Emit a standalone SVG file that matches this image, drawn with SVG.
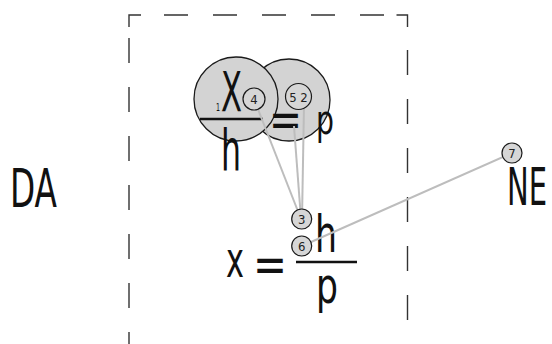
<svg xmlns="http://www.w3.org/2000/svg" width="552" height="344" viewBox="0 0 552 344">
<defs>
<style>
.t{font-family:"Liberation Sans Narrow","DejaVu Sans Condensed","Liberation Sans",sans-serif;fill:#111}
.s{font-family:"Liberation Sans Narrow","DejaVu Sans Condensed","Liberation Sans",sans-serif;fill:#222;font-size:13px;text-anchor:middle}
.big{fill:#d3d3d3;stroke:#1a1a1a;stroke-width:1.3}
.sm{fill:#d6d6d6;stroke:#1a1a1a;stroke-width:1.2}
.bar{stroke:#111;stroke-width:2.6}
.dash{fill:none;stroke:#333;stroke-width:1.4}
.con{stroke:#bdbdbd;stroke-width:2;fill:none}
</style>
</defs>
<rect width="552" height="344" fill="#fff"/>
<g id="frame">
<polyline class="dash" points="129,27 129,15 141,15"/>
<polyline class="dash" points="396.5,15 407.5,15 407.5,27"/>
<line class="dash" x1="164" y1="15" x2="385" y2="15" stroke-dasharray="24 25"/>
<line class="dash" x1="129" y1="38" x2="129" y2="344" stroke-dasharray="25 24"/>
<line class="dash" x1="407.5" y1="50" x2="407.5" y2="344" stroke-dasharray="25 24"/>
</g>
<g id="DA"><text class="t" x="10" y="207" font-size="54" textLength="47" lengthAdjust="spacingAndGlyphs">DA</text></g>
<g id="NE"><text class="t" x="507" y="205" font-size="52" textLength="40" lengthAdjust="spacingAndGlyphs">NE</text></g>
<g id="bubble2"><circle class="big" cx="289" cy="100" r="41"/></g>
<g id="bubble1"><circle class="big" cx="236" cy="99" r="42"/></g>
<g id="upper-equation">
<text class="t" x="216" y="111" font-size="11" textLength="4" lengthAdjust="spacingAndGlyphs">1</text>
<text class="t" x="221" y="111" font-size="56" textLength="21" lengthAdjust="spacingAndGlyphs">X</text>
<line class="bar" x1="200" y1="119" x2="263" y2="119"/>
<text class="t" x="221" y="170" font-size="57" textLength="20" lengthAdjust="spacingAndGlyphs">h</text>
<text class="t" x="269" y="136.5" font-size="51" textLength="33" lengthAdjust="spacingAndGlyphs">=</text>
<text class="t" x="316" y="134" font-size="41" textLength="18" lengthAdjust="spacingAndGlyphs">p</text>
</g>
<g id="lower-equation">
<text class="t" x="226" y="277" font-size="50" textLength="18" lengthAdjust="spacingAndGlyphs">x</text>
<text class="t" x="253" y="282" font-size="51" textLength="34" lengthAdjust="spacingAndGlyphs">=</text>
<text class="t" x="315" y="252" font-size="52" textLength="22" lengthAdjust="spacingAndGlyphs">h</text>
<line class="bar" x1="296" y1="262" x2="357" y2="262"/>
<text class="t" x="316" y="303" font-size="50" textLength="22" lengthAdjust="spacingAndGlyphs">p</text>
</g>
<g id="connectors">
<line class="con" x1="254" y1="99" x2="301" y2="219"/>
<line class="con" x1="294" y1="126" x2="301" y2="219"/>
<line class="con" x1="304" y1="105" x2="302" y2="219"/>
<line class="con" x1="302" y1="246" x2="512" y2="153"/>
</g>
<g id="n4"><circle class="sm" cx="254" cy="99" r="11"/><text class="s" x="254" y="104" font-size="14">4</text></g>
<g id="n52"><circle class="sm" cx="298.5" cy="96.5" r="13"/><text class="s" x="298.5" y="101.5" font-size="14">5 2</text></g>
<g id="n3"><circle class="sm" cx="301.7" cy="219" r="10"/><text class="s" x="301.7" y="223.5">3</text></g>
<g id="n6"><circle class="sm" cx="301.7" cy="246" r="10"/><text class="s" x="301.7" y="250.5">6</text></g>
<g id="n7"><circle class="sm" cx="512" cy="153" r="10"/><text class="s" x="512" y="157.5">7</text></g>
</svg>
